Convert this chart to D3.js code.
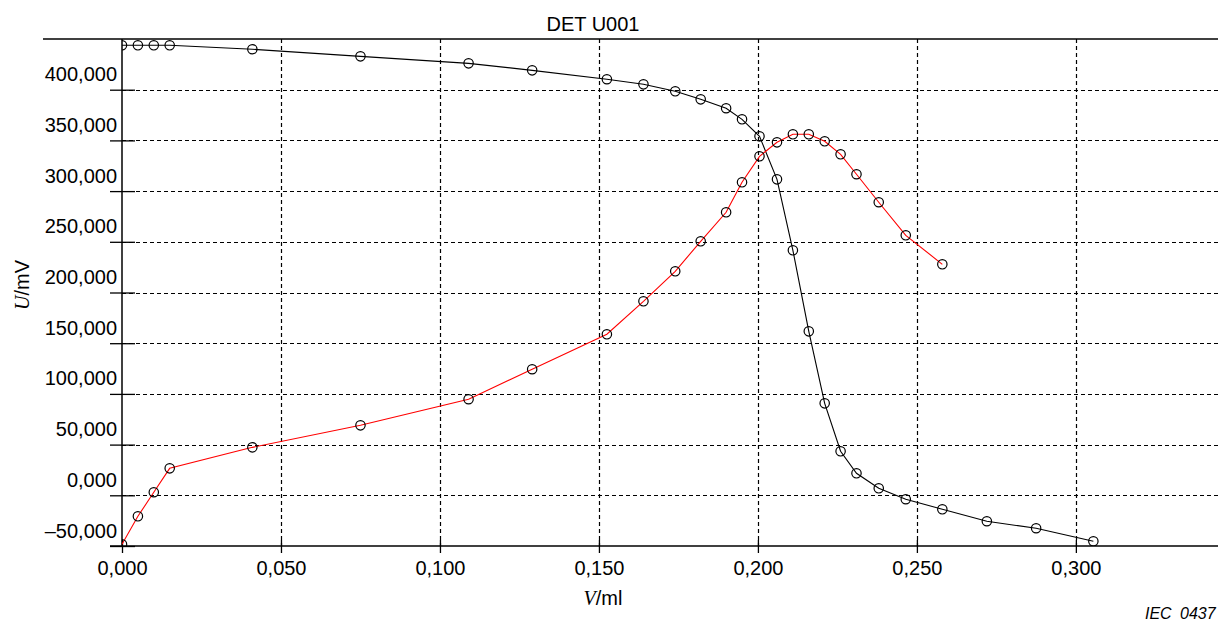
<!DOCTYPE html>
<html>
<head>
<meta charset="utf-8">
<script src="https://cdn.jsdelivr.net/npm/d3@7"></script>
<style>
  body { margin: 0; background: #fff; }
  text { font-family: "Liberation Sans", Arial, sans-serif; fill: #000; }
</style>
</head>
<body>
<div id="chart"></div>
<script>
// Titration data
var volume = [0.000, 0.005, 0.010, 0.015, 0.041, 0.075, 0.109, 0.129, 0.1525, 0.164,
              0.174, 0.182, 0.190, 0.195, 0.2005, 0.206, 0.211, 0.216, 0.221, 0.226,
              0.231, 0.238, 0.2465, 0.258, 0.272, 0.2875, 0.3055];
var potential = [443.8, 443.8, 443.8, 443.8, 439.9, 432.9, 426.0, 419.1, 410.3, 405.3,
                 398.4, 390.5, 381.7, 370.8, 354.0, 311.6, 241.6, 161.7, 90.7, 43.4,
                 21.7, 6.9, -3.9, -13.8, -25.6, -32.5, -45.4];
var derivative = [-48.3, -20.7, 3.0, 26.6, 47.3, 69.0, 94.7, 124.3, 158.8, 191.3,
                  220.9, 250.5, 279.1, 308.7, 334.3, 348.1, 356.0, 356.0, 349.1, 336.3,
                  316.6, 289.0, 256.4, 227.8];
var xTicks = [0, 0.05, 0.10, 0.15, 0.20, 0.25, 0.30];
var yTicks = [-50, 0, 50, 100, 150, 200, 250, 300, 350, 400];

var W = 1218, H = 622;
var pLeft = 122, pTop = 39, pRight = 1218, pBottom = 546;

var loc = d3.formatLocale({decimal: ",", thousands: ".", grouping: [3], currency: ["", ""], minus: "\u2013"});
var fmt = loc.format(".3f");

var x = d3.scaleLinear().domain([0, 0.3447]).range([pLeft, pRight]);
var y = d3.scaleLinear().domain([-50, 450]).range([pBottom, pTop]);

var svg = d3.select("#chart").append("svg")
    .attr("width", W)
    .attr("height", H);

svg.append("clipPath").attr("id", "plot")
  .append("rect")
    .attr("x", pLeft).attr("y", pTop)
    .attr("width", pRight - pLeft).attr("height", pBottom - pTop);

// dashed grid
svg.append("g").selectAll("line")
    .data(yTicks.filter(function(d) { return d > -50; }))
    .enter().append("line")
    .attr("x1", pLeft).attr("x2", pRight)
    .attr("y1", function(d) { return Math.round(y(d)) + 0.5; })
    .attr("y2", function(d) { return Math.round(y(d)) + 0.5; })
    .attr("stroke", "#000").attr("stroke-width", 1.2)
    .attr("stroke-dasharray", "4,3");

svg.append("g").selectAll("line")
    .data(xTicks.filter(function(d) { return d > 0; }))
    .enter().append("line")
    .attr("x1", function(d) { return Math.round(x(d)) + 0.5; })
    .attr("x2", function(d) { return Math.round(x(d)) + 0.5; })
    .attr("y1", pTop).attr("y2", pBottom)
    .attr("stroke", "#000").attr("stroke-width", 1.2)
    .attr("stroke-dasharray", "4,3");

// axes
var yAxis = svg.append("g")
    .attr("transform", "translate(" + pLeft + ",0)")
    .call(d3.axisLeft(y).tickValues(yTicks).tickFormat(fmt).tickSize(12));
yAxis.select(".domain").remove();
yAxis.selectAll("line").attr("x1", -12).attr("x2", 13).attr("stroke-width", 1.3);
yAxis.selectAll("text")
    .attr("x", -5)
    .attr("dy", "-0.45em")
    .attr("font-size", 20)
    .attr("font-family", "Liberation Sans, Arial, sans-serif");

var xAxis = svg.append("g")
    .attr("transform", "translate(0," + pBottom + ")")
    .call(d3.axisBottom(x).tickValues(xTicks).tickFormat(fmt).tickSize(7));
xAxis.select(".domain").remove();
xAxis.selectAll("line").attr("y1", -6).attr("y2", 7).attr("stroke-width", 1.3);
xAxis.selectAll("text")
    .attr("y", 29)
    .attr("dy", 0)
    .attr("font-size", 20)
    .attr("font-family", "Liberation Sans, Arial, sans-serif");

// frame lines
svg.append("line")
    .attr("x1", 43).attr("x2", pRight).attr("y1", pTop).attr("y2", pTop)
    .attr("stroke", "#000").attr("stroke-width", 1.5);
svg.append("line")
    .attr("x1", 110).attr("x2", pRight).attr("y1", pBottom).attr("y2", pBottom)
    .attr("stroke", "#000").attr("stroke-width", 1.5);
svg.append("line")
    .attr("x1", pLeft).attr("x2", pLeft).attr("y1", pTop).attr("y2", pBottom)
    .attr("stroke", "#000").attr("stroke-width", 1.5);

// curves
var plot = svg.append("g").attr("clip-path", "url(#plot)");

var lineU = d3.line()
    .x(function(d, i) { return x(volume[i]); })
    .y(function(d) { return y(d); });

plot.append("path")
    .datum(potential)
    .attr("d", lineU)
    .attr("fill", "none").attr("stroke", "#000").attr("stroke-width", 1.1);

plot.append("path")
    .datum(derivative)
    .attr("d", lineU)
    .attr("fill", "none").attr("stroke", "#ff0000").attr("stroke-width", 1.1);

plot.selectAll(".ptU")
    .data(potential)
    .enter().append("circle")
    .attr("class", "ptU")
    .attr("cx", function(d, i) { return x(volume[i]); })
    .attr("cy", function(d) { return y(d); })
    .attr("r", 4.7)
    .attr("fill", "none").attr("stroke", "#000").attr("stroke-width", 1.2);

plot.selectAll(".ptD")
    .data(derivative)
    .enter().append("circle")
    .attr("class", "ptD")
    .attr("cx", function(d, i) { return x(volume[i]); })
    .attr("cy", function(d) { return y(d); })
    .attr("r", 4.7)
    .attr("fill", "none").attr("stroke", "#000").attr("stroke-width", 1.2);

// labels
svg.append("text")
    .attr("x", 593).attr("y", 31)
    .attr("text-anchor", "middle")
    .attr("font-size", 20)
    .text("DET U001");

var xl = svg.append("text")
    .attr("x", 603).attr("y", 605)
    .attr("text-anchor", "middle")
    .attr("font-size", 20);
xl.append("tspan").attr("font-family", "Liberation Serif, Times New Roman, serif")
    .attr("font-style", "italic").text("V");
xl.append("tspan").text("/ml");

var yl = svg.append("text")
    .attr("transform", "translate(29,285) rotate(-90)")
    .attr("text-anchor", "middle")
    .attr("font-size", 20);
yl.append("tspan").attr("font-family", "Liberation Serif, Times New Roman, serif")
    .attr("font-style", "italic").text("U");
yl.append("tspan").text("/mV");

var iec = svg.append("text")
    .attr("y", 619)
    .attr("font-size", 16)
    .attr("font-style", "italic");
iec.append("tspan").attr("x", 1145).text("IEC");
iec.append("tspan").attr("x", 1180).text("0437");
</script>
</body>
</html>
